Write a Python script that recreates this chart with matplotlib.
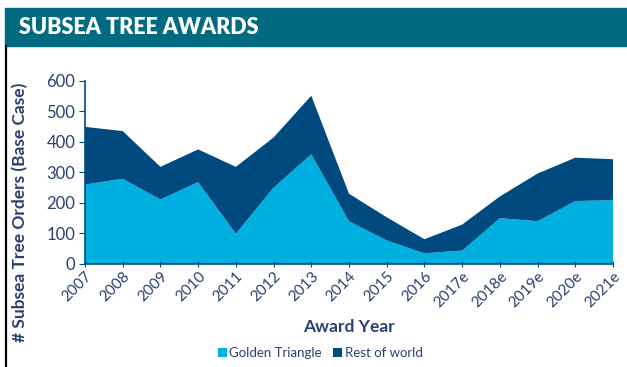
import numpy as np
import matplotlib
matplotlib.use('Agg')
from matplotlib import pyplot as plt
from matplotlib.patches import Rectangle
from matplotlib.lines import Line2D

# data
years = ['2007', '2008', '2009', '2010', '2011', '2012', '2013', '2014',
         '2015', '2016', '2017e', '2018e', '2019e', '2020e', '2021e']
golden_triangle = [260, 279, 211, 268, 99, 250, 359, 140, 77, 35, 44, 150, 140, 206, 209]
rest_of_world = [189, 156, 107, 107, 219, 164, 192, 90, 76, 46, 85, 71, 156, 142, 134]
yticks = [0, 100, 200, 300, 400, 500, 600]

GOLD_C = '#00B0E0'
REST_C = '#004A80'
TEXT_C = '#2B3F73'
HEAD_C = '#006B80'

plt.rcParams['font.family'] = ['Lato', 'DejaVu Sans']

fig = plt.figure(figsize=(6.27, 3.67), dpi=100)

# header band and left border
fig.patches.append(Rectangle((5 / 627, 1 - 46 / 367), 622 / 627, 38 / 367,
                             transform=fig.transFigure, color=HEAD_C, zorder=0))
fig.lines.append(Line2D([5.5 / 627, 5.5 / 627], [0, 1 - 46 / 367],
                        transform=fig.transFigure, color='black', lw=1.6))
fig.text(19 / 627, 1 - 28 / 367, 'SUBSEA TREE AWARDS', color='white',
         fontsize=15.5, fontweight='heavy', va='center', ha='left')

ax = fig.add_axes([85 / 627, 1 - 264 / 367, 528 / 627, 183.3 / 367])
x = np.arange(len(years))
ax.stackplot(x, golden_triangle, rest_of_world, colors=[GOLD_C, REST_C],
             labels=['Golden Triangle', 'Rest of world'], lw=0)

ax.set_xlim(0, len(years) - 1)
ax.set_ylim(0, 600)
ax.set_yticks(yticks)
ax.set_xticks(x)
ax.set_xticklabels(years, rotation=45, ha='right', rotation_mode='anchor')
for s in ['top', 'right']:
    ax.spines[s].set_visible(False)
for s in ['left', 'bottom']:
    ax.spines[s].set_color(REST_C)
    ax.spines[s].set_linewidth(1.2)
ax.tick_params(axis='y', length=4, color=REST_C, labelcolor=TEXT_C, labelsize=12, pad=3)
ax.tick_params(axis='x', length=4, color=REST_C, labelcolor=TEXT_C, labelsize=11,
               pad=2, direction='inout')

ax.set_xlabel('Award Year', fontsize=12.5, fontweight='bold', color=TEXT_C, labelpad=6)
fig.text(20 / 627, 1 - 212 / 367, '# Subsea Tree Orders (Base Case)', rotation=90,
         fontsize=12.5, fontweight='bold', color=TEXT_C, ha='center', va='center')

leg = fig.legend(loc='center', bbox_to_anchor=(320 / 627, 1 - 353 / 367), ncol=2,
                 frameon=False, fontsize=9.5, handlelength=0.7, handleheight=0.7,
                 handletextpad=0.2, columnspacing=0.8)
for t in leg.get_texts():
    t.set_color(TEXT_C)

fig.savefig('out.png', dpi=100)
